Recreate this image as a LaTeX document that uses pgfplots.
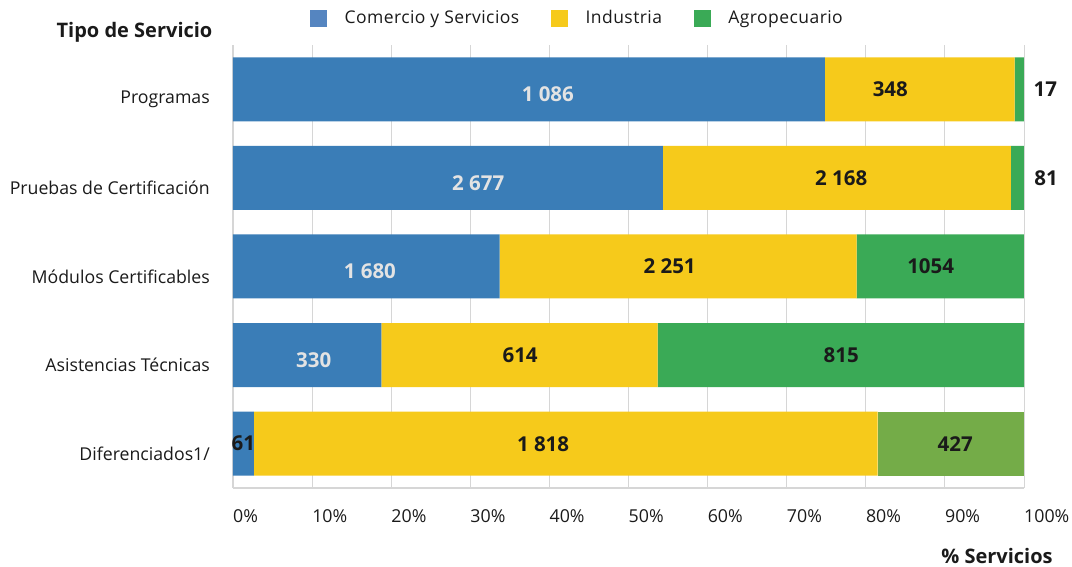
\documentclass[border=0pt]{standalone}
\usepackage{fontspec}
\setmainfont{Open Sans}
\newfontfamily\legfont{Open Sans}[LetterSpace=2.5]
\usepackage{pgfplots}
\pgfplotsset{compat=1.18}
\definecolor{cblue}{HTML}{3A7DB7}
\definecolor{legblue}{HTML}{5585C0}
\definecolor{cyellow}{HTML}{F6CA1B}
\definecolor{cgreen}{HTML}{3AAA56}
\definecolor{colive}{HTML}{74AC48}
\definecolor{gridgray}{HTML}{D6D6D6}
\definecolor{txt}{HTML}{1A1A1A}
\definecolor{lightlab}{HTML}{E3E3E3}
\begin{document}
\begin{tikzpicture}[x=1pt,y=1pt]
\path[use as bounding box] (0,0) rectangle (1072,567);
\pgfplotsset{
  base/.style={
    at={(233pt,79pt)}, anchor=south west,
    scale only axis, width=791pt, height=443pt,
    xmin=0, xmax=100, ymin=-0.5, ymax=4.5,
  },
  legsq/.style={legend image code/.code={\fill[#1] (0pt,-8pt) rectangle (16pt,8pt);}},
}
\begin{axis}[base,
  xbar stacked, bar width=64pt,
  axis x line*=bottom, axis y line*=left,
  axis line style={-, draw=gridgray, line width=1.2pt},
  xtick={0,10,...,100},
  xmajorgrids, grid style={gridgray, line width=1pt},
  major tick length=0pt,
  xticklabel={\pgfmathprintnumber{\tick}\%},
  /pgf/number format/assume math mode=true,
  xticklabel style={anchor=north west, inner sep=0pt, yshift=-21pt, font=\fontsize{17.8}{20}\selectfont, text=txt},
  ytick={0,1,2,3,4},
  yticklabels={Diferenciados1/, Asistencias Técnicas\hspace{6pt}, Módulos Certificables, Pruebas de Certificación, Programas},
  yticklabel style={anchor=east, inner sep=0pt, xshift=-23pt, yshift=-10pt, font=\fontsize{17.7}{20}\selectfont, text=txt},
  legend style={at={(0.0936,1.061)}, anchor=west, draw=none, fill=none,
    legend columns=3, font=\legfont\fontsize{17.5}{19}\selectfont, text=txt,
    /tikz/every odd column/.append style={column sep=18pt},
    /tikz/every even column/.append style={column sep=32pt},
    nodes={inner sep=0pt}},
  legend cell align=left,
]
\addlegendimage{legsq=legblue}
\addlegendentry{Comercio y Servicios}
\addlegendimage{legsq=cyellow}
\addlegendentry{Industria}
\addlegendimage{legsq=cgreen}
\addlegendentry{Agropecuario}
% percentages of each row (counts: 1086/348/17, 2677/2168/81, 1680/2251/1054, 330/614/815, 61/1818/427)
\addplot[fill=cblue, draw=none, forget plot] coordinates {(2.65,0) (18.76,1) (33.70,2) (54.34,3) (74.84,4)};
\addplot[fill=cyellow, draw=none, forget plot] coordinates {(78.84,0) (34.91,1) (45.15,2) (44.01,3) (23.98,4)};
\addplot[fill=cgreen, draw=none, forget plot] coordinates {(0,0) (46.33,1) (21.14,2) (1.64,3) (1.17,4)};
\addplot[fill=colive, draw=none, forget plot] coordinates {(18.51,0) (0,1) (0,2) (0,3) (0,4)};
\end{axis}
\begin{axis}[base, hide axis, clip=false, point meta=explicit symbolic]
\addplot[draw=none, mark=none, nodes near coords, nodes near coords align={center},
  nodes near coords style={anchor=center, yshift=-5pt, font=\bfseries\fontsize{20.5}{22}\selectfont, text=lightlab}]
  coordinates {(39.8,4) [1 086] (31.0,3) [2 677] (17.3,2) [1 680] (10.2,1) [330]};
\addplot[draw=none, mark=none, nodes near coords, nodes near coords align={center},
  nodes near coords style={anchor=center, font=\bfseries\fontsize{20.5}{22}\selectfont, text=txt}]
  coordinates {(83.1,4) [348] (102.7,4) [17] (76.9,3) [2 168] (102.8,3) [81]
    (55.2,2) [2 251] (88.2,2) [1054] (36.3,1) [614] (76.9,1) [815]
    (1.3,0) [61] (39.2,0) [1 818] (91.3,0) [427]};
\end{axis}
\node[font=\bfseries\fontsize{20}{22}\selectfont, text=txt] at (134.5,535) {Tipo de Servicio};
\node[font=\bfseries\fontsize{20}{22}\selectfont, text=txt] at (997,11) {\% Servicios};
\end{tikzpicture}
\end{document}
